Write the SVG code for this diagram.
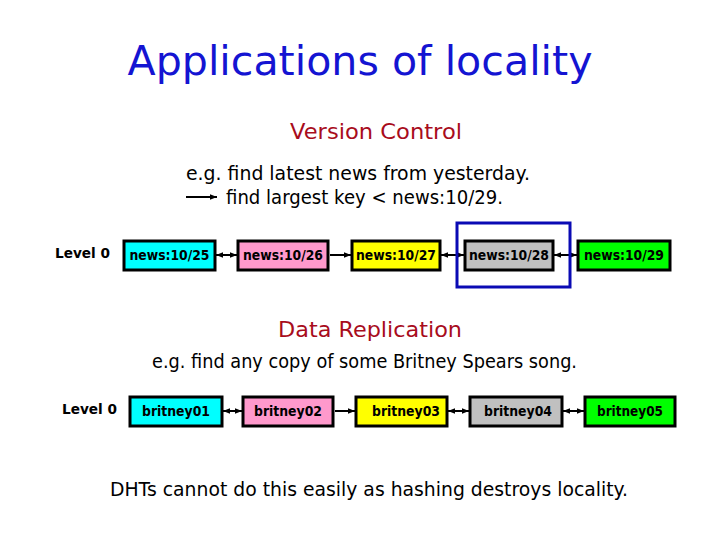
<svg xmlns="http://www.w3.org/2000/svg" width="720" height="540" viewBox="0 0 720 540">
<defs>
<marker id="ah" viewBox="0 0 10 10" refX="10" refY="5" markerWidth="3.5" markerHeight="3.5" orient="auto-start-reverse" markerUnits="strokeWidth">
<path d="M0,1 L10,5 L0,9 z" fill="#000"/>
</marker>
</defs>
<style>
text{font-family:"DejaVu Sans","Noto Sans",sans-serif;}
.title{font-size:40px;fill:#1414d2;}
.sub{font-size:21px;fill:#a80c1c;}
.body{font-size:19px;fill:#000;}
.lvl{font-size:14px;font-weight:bold;fill:#000;}
.nt{font-size:13.5px;font-weight:bold;fill:#000;}
.box{stroke:#000;stroke-width:3;}
.link{stroke:#000;stroke-width:2;fill:none;}
</style>
<rect width="720" height="540" fill="#fff"/>
<text class="title" x="360" y="75" text-anchor="middle" textLength="465" lengthAdjust="spacingAndGlyphs">Applications of locality</text>
<text class="sub" x="376" y="139" text-anchor="middle" textLength="172" lengthAdjust="spacingAndGlyphs">Version Control</text>
<text class="body" x="186" y="180" textLength="344" lengthAdjust="spacingAndGlyphs">e.g. find latest news from yesterday.</text>
<line class="link" x1="186" y1="197" x2="217" y2="197" marker-end="url(#ah)"/>
<text class="body" x="226" y="204" textLength="277" lengthAdjust="spacingAndGlyphs">find largest key &lt; news:10/29.</text>
<text class="lvl" x="55" y="258" textLength="55" lengthAdjust="spacingAndGlyphs">Level 0</text>

<g id="connectors">
<line class="link" x1="216" y1="255" x2="237" y2="255" marker-start="url(#ah)" marker-end="url(#ah)"/>
<line class="link" x1="330" y1="255" x2="351" y2="255" marker-end="url(#ah)"/>
<line class="link" x1="441" y1="255" x2="464" y2="255" marker-start="url(#ah)" marker-end="url(#ah)"/>
<line class="link" x1="554" y1="255" x2="577" y2="255" marker-start="url(#ah)" marker-end="url(#ah)"/>
<line class="link" x1="223" y1="411" x2="242" y2="411" marker-start="url(#ah)" marker-end="url(#ah)"/>
<line class="link" x1="335" y1="411" x2="355" y2="411" marker-end="url(#ah)"/>
<line class="link" x1="448" y1="411" x2="469" y2="411" marker-start="url(#ah)" marker-end="url(#ah)"/>
<line class="link" x1="563" y1="411" x2="584" y2="411" marker-start="url(#ah)" marker-end="url(#ah)"/>
</g>

<g id="n1025"><rect class="box" x="124" y="241" width="91" height="29" fill="#00ffff"/><text class="nt" x="169.5" y="260" text-anchor="middle" textLength="80" lengthAdjust="spacingAndGlyphs">news:10/25</text></g>
<g id="n1026"><rect class="box" x="238" y="241" width="90" height="29" fill="#ff99cc"/><text class="nt" x="283" y="260" text-anchor="middle" textLength="80" lengthAdjust="spacingAndGlyphs">news:10/26</text></g>
<g id="n1027"><rect class="box" x="352" y="241" width="88" height="29" fill="#ffff00"/><text class="nt" x="396" y="260" text-anchor="middle" textLength="80" lengthAdjust="spacingAndGlyphs">news:10/27</text></g>
<g id="n1028"><rect class="box" x="465" y="241" width="88" height="29" fill="#c0c0c0"/><text class="nt" x="509" y="260" text-anchor="middle" textLength="80" lengthAdjust="spacingAndGlyphs">news:10/28</text></g>
<g id="n1029"><rect class="box" x="578" y="241" width="92" height="29" fill="#00ff00"/><text class="nt" x="624" y="260" text-anchor="middle" textLength="80" lengthAdjust="spacingAndGlyphs">news:10/29</text></g>
<g id="highlight"><rect x="457" y="223" width="113" height="64" fill="none" stroke="#0a0ab4" stroke-width="3"/></g>

<text class="sub" x="370" y="337" text-anchor="middle" textLength="184" lengthAdjust="spacingAndGlyphs">Data Replication</text>
<text class="body" x="152" y="368" textLength="425" lengthAdjust="spacingAndGlyphs">e.g. find any copy of some Britney Spears song.</text>
<text class="lvl" x="62" y="414" textLength="55" lengthAdjust="spacingAndGlyphs">Level 0</text>

<g id="b01"><rect class="box" x="130" y="397" width="92" height="29" fill="#00ffff"/><text class="nt" x="176" y="416" text-anchor="middle" textLength="68" lengthAdjust="spacingAndGlyphs">britney01</text></g>
<g id="b02"><rect class="box" x="243" y="397" width="90" height="29" fill="#ff99cc"/><text class="nt" x="288" y="416" text-anchor="middle" textLength="68" lengthAdjust="spacingAndGlyphs">britney02</text></g>
<g id="b03"><rect class="box" x="356" y="397" width="91" height="29" fill="#ffff00"/><text class="nt" x="406" y="416" text-anchor="middle" textLength="68" lengthAdjust="spacingAndGlyphs">britney03</text></g>
<g id="b04"><rect class="box" x="470" y="397" width="92" height="29" fill="#c0c0c0"/><text class="nt" x="518" y="416" text-anchor="middle" textLength="68" lengthAdjust="spacingAndGlyphs">britney04</text></g>
<g id="b05"><rect class="box" x="585" y="397" width="90" height="29" fill="#00ff00"/><text class="nt" x="630" y="416" text-anchor="middle" textLength="66" lengthAdjust="spacingAndGlyphs">britney05</text></g>

<text class="body" x="110" y="496" textLength="518" lengthAdjust="spacingAndGlyphs">DHTs cannot do this easily as hashing destroys locality.</text>
</svg>
